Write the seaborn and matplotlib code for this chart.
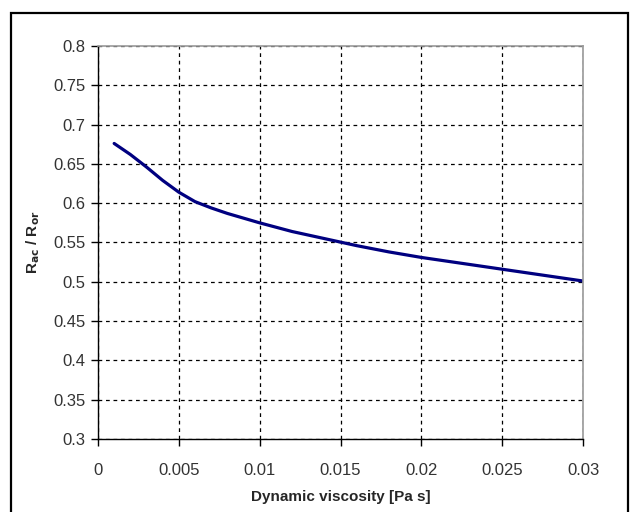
import matplotlib
matplotlib.use("Agg")
import matplotlib.pyplot as plt
import matplotlib.patches as mpatches
import seaborn as sns
import pandas as pd
import numpy as np

viscosity = [0.001, 0.002, 0.003, 0.004, 0.005, 0.006, 0.007, 0.008, 0.009, 0.010,
             0.012, 0.014, 0.016, 0.018, 0.020, 0.022, 0.024, 0.026, 0.028, 0.030]
ratio = [0.676, 0.662, 0.646, 0.629, 0.614, 0.602, 0.594, 0.587, 0.581, 0.575,
         0.564, 0.555, 0.546, 0.538, 0.531, 0.525, 0.519, 0.513, 0.507, 0.501]
x_ticks = [0, 0.005, 0.01, 0.015, 0.02, 0.025, 0.03]
x_labels = ["0", "0.005", "0.01", "0.015", "0.02", "0.025", "0.03"]
y_ticks = [0.3, 0.35, 0.4, 0.45, 0.5, 0.55, 0.6, 0.65, 0.7, 0.75, 0.8]
y_labels = ["0.3", "0.35", "0.4", "0.45", "0.5", "0.55", "0.6", "0.65", "0.7", "0.75", "0.8"]

df = pd.DataFrame({"viscosity": viscosity, "ratio": ratio})

sns.set_style("white")
plt.rcParams["font.family"] = ["Liberation Sans", "DejaVu Sans"]

fig = plt.figure(figsize=(6.3, 5.12), dpi=100)
ax = fig.add_axes([98/630, 1-439/512, (583-98)/630, (439-46)/512])

sns.lineplot(data=df, x="viscosity", y="ratio", ax=ax, color="#000080", linewidth=2.3)

ax.set_xlim(0, 0.03)
ax.set_ylim(0.3, 0.8)
ax.set_xticks(x_ticks)
ax.set_xticklabels(x_labels)
ax.set_yticks(y_ticks)
ax.set_yticklabels(y_labels)
ax.tick_params(axis="both", direction="out", length=5, width=1, color="black",
               labelsize=12, labelcolor="#333333", pad=4, left=True, bottom=True)
ax.tick_params(axis="x", pad=12)
ax.grid(True, color="black", linestyle=(0, (3, 3)), linewidth=0.9)
for s in ["left", "bottom"]:
    ax.spines[s].set_color("black")
    ax.spines[s].set_linewidth(1.0)
for s in ["top", "right"]:
    ax.spines[s].set_color("#999999")
    ax.spines[s].set_linewidth(1.2)

ax.set_xlabel("Dynamic viscosity [Pa s]", fontsize=11, fontweight="bold", labelpad=9)
ax.set_ylabel(r"R$_{\mathbf{ac}}$ / R$_{\mathbf{or}}$", fontsize=11, fontweight="bold", labelpad=8)

border = mpatches.Rectangle((11/630, -0.1), (628-11)/630, 1.1 - 13/512, transform=fig.transFigure,
                            fill=False, edgecolor="black", linewidth=1.6, clip_on=False)
fig.patches.append(border)

fig.savefig("out.png", dpi=100)
